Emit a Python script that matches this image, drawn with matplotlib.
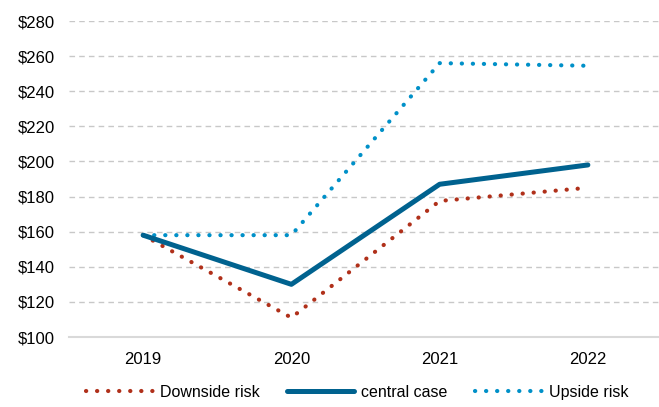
import matplotlib.pyplot as plt

plt.rcParams['font.family'] = ['Liberation Sans', 'DejaVu Sans']

years = ["2019", "2020", "2021", "2022"]
downside = [158, 111, 177.5, 185]
central = [158, 130, 187, 198]
upside = [158, 158, 256, 254.5]

fig = plt.figure(figsize=(6.59, 4.07), dpi=100)
ax = fig.add_axes([69 / 659, 1 - 337 / 407, 593 / 659, 316 / 407])

x = range(len(years))
ax.plot(x, downside, color='#b0301a', lw=3.0, linestyle=(0, (0.05, 2.6)),
        dash_capstyle='round', label='Downside risk', zorder=3)
ax.plot(x, central, color='#00628f', lw=3.6, solid_capstyle='round',
        label='central case', zorder=4)
ax.plot(x, upside, color='#0090c8', lw=3.0, linestyle=(0, (0.05, 2.6)),
        dash_capstyle='round', label='Upside risk', zorder=3)

ax.set_xlim(-0.5, 3.5)
ax.set_ylim(100, 280)
ax.set_yticks(range(100, 281, 20))
ax.set_yticklabels(['$%d' % v for v in range(100, 281, 20)])
ax.set_xticks(list(x))
ax.set_xticklabels(years)
ax.tick_params(length=0, labelsize=12, colors='black')
ax.tick_params(axis='x', pad=11)
ax.tick_params(axis='y', pad=10)

ax.yaxis.grid(True, color='#c8c8c8', linestyle=(0, (4, 3)), lw=1)
for s in ['top', 'right', 'left']:
    ax.spines[s].set_visible(False)
ax.spines['bottom'].set_color('#d9d9d9')
ax.spines['bottom'].set_linewidth(1.5)

fig.legend(loc='center', bbox_to_anchor=(0.542, 0.036), ncol=3, frameon=False,
           fontsize=11.5, handlelength=4.2, columnspacing=1.7, handletextpad=0.45)

plt.savefig('out.png', dpi=100)
